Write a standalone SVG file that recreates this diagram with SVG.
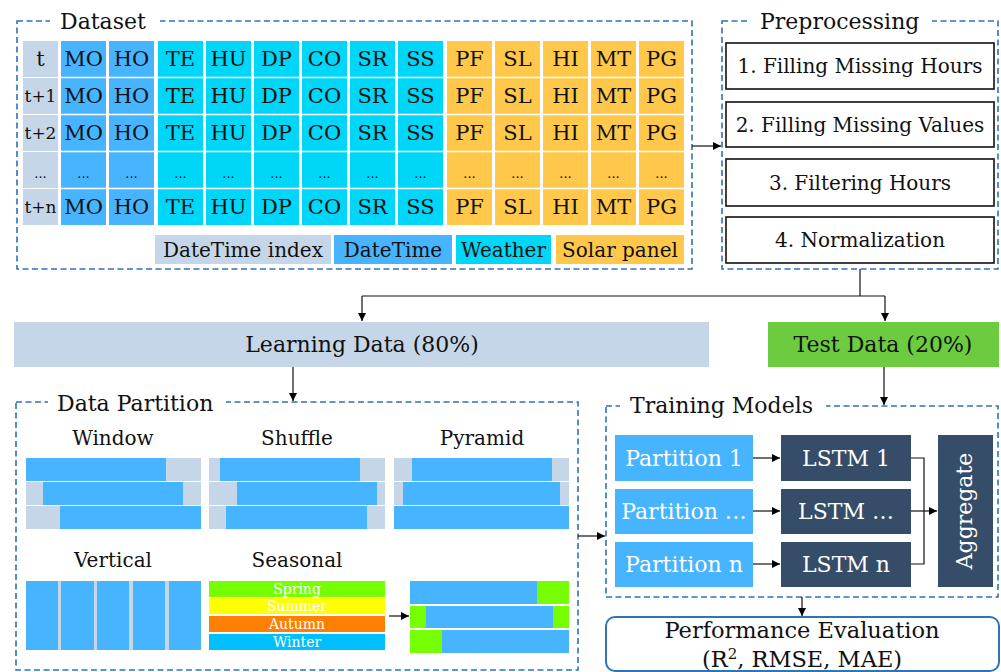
<svg xmlns="http://www.w3.org/2000/svg" width="1001" height="672" viewBox="0 0 1001 672">
  <defs>
    <marker id="arrow" viewBox="0 0 10 10" refX="10" refY="5" markerWidth="8" markerHeight="8" markerUnits="userSpaceOnUse" orient="auto">
      <path d="M0,0 L10,5 L0,10 Z" fill="#000"/>
    </marker>
    <style>
      text { font-family: "DejaVu Serif", "Liberation Serif", serif; fill: #111; }
      .frame { fill: none; stroke: #2F70B8; stroke-width: 1.6; stroke-dasharray: 6 3.5; }
      .mask { fill: #fff; }
      .title { font-size: 22px; }
      .idx { fill: #C5D6E8; }
      .dt { fill: #47B4FF; }
      .wx { fill: #00D6F7; }
      .sp { fill: #FFC84B; }
      .cell { font-size: 21px; text-anchor: middle; }
      .row { font-size: 17px; text-anchor: middle; }
      .dots { font-size: 13px; text-anchor: middle; }
      .step { fill: #fff; stroke: #111; stroke-width: 1.6; }
      .stepText { font-size: 20px; text-anchor: middle; }
      .lbl { font-size: 20px; text-anchor: middle; }
      .season { font-size: 14px; text-anchor: middle; fill: #fff; }
      .lstm { fill: #354D68; }
      .white { fill: #fff; font-size: 22px; text-anchor: middle; }
      .conn { fill: none; stroke: #111; stroke-width: 1.2; }
    </style>
  </defs>

  <rect width="1001" height="672" fill="#fff"/>

  <!-- Dataset table -->
  <g id="dataset">
    <rect class="frame" x="17" y="21" width="675" height="248"/>
    <rect class="mask" x="50" y="8" width="110" height="26"/>
    <text class="title" x="60" y="29">Dataset</text>
    <!-- index column -->
    <g>
      <rect class="idx" x="23" y="41" width="35" height="36"/>
      <rect class="idx" x="23" y="78" width="35" height="36"/>
      <rect class="idx" x="23" y="115" width="35" height="36"/>
      <rect class="idx" x="23" y="152" width="35" height="36"/>
      <rect class="idx" x="23" y="189" width="35" height="36"/>
      <text class="cell" x="40.5" y="66">t</text>
      <text class="row" x="40.5" y="102">t+1</text>
      <text class="row" x="40.5" y="139">t+2</text>
      <text class="dots" x="40.5" y="178">...</text>
      <text class="row" x="40.5" y="213">t+n</text>
    </g>
    <!-- date/time columns -->
    <g>
      <rect class="dt" x="61" y="41" width="45" height="184"/>
      <rect class="dt" x="109" y="41" width="45" height="184"/>
    </g>
    <!-- weather columns -->
    <g>
      <rect class="wx" x="158" y="41" width="45" height="184"/>
      <rect class="wx" x="206" y="41" width="45" height="184"/>
      <rect class="wx" x="254" y="41" width="45" height="184"/>
      <rect class="wx" x="302" y="41" width="45" height="184"/>
      <rect class="wx" x="350" y="41" width="45" height="184"/>
      <rect class="wx" x="398" y="41" width="45" height="184"/>
    </g>
    <!-- solar panel columns -->
    <g>
      <rect class="sp" x="447" y="41" width="45" height="184"/>
      <rect class="sp" x="495" y="41" width="45" height="184"/>
      <rect class="sp" x="543" y="41" width="45" height="184"/>
      <rect class="sp" x="591" y="41" width="45" height="184"/>
      <rect class="sp" x="639" y="41" width="45" height="184"/>
    </g>
    <!-- row separators -->
    <g stroke="#fff" stroke-width="1.4">
      <line x1="61" y1="77.5" x2="684" y2="77.5"/>
      <line x1="61" y1="114.5" x2="684" y2="114.5"/>
      <line x1="61" y1="151.5" x2="684" y2="151.5"/>
      <line x1="61" y1="188.5" x2="684" y2="188.5"/>
    </g>
    <!-- cell labels -->
    <g class="cells">
      <text class="cell" x="83.5" y="66">MO</text><text class="cell" x="131.5" y="66">HO</text>
      <text class="cell" x="180.5" y="66">TE</text><text class="cell" x="228.5" y="66">HU</text>
      <text class="cell" x="276.5" y="66">DP</text><text class="cell" x="324.5" y="66">CO</text>
      <text class="cell" x="372.5" y="66">SR</text><text class="cell" x="420.5" y="66">SS</text>
      <text class="cell" x="469.5" y="66">PF</text><text class="cell" x="517.5" y="66">SL</text>
      <text class="cell" x="565.5" y="66">HI</text><text class="cell" x="613.5" y="66">MT</text>
      <text class="cell" x="661.5" y="66">PG</text>

      <text class="cell" x="83.5" y="103">MO</text><text class="cell" x="131.5" y="103">HO</text>
      <text class="cell" x="180.5" y="103">TE</text><text class="cell" x="228.5" y="103">HU</text>
      <text class="cell" x="276.5" y="103">DP</text><text class="cell" x="324.5" y="103">CO</text>
      <text class="cell" x="372.5" y="103">SR</text><text class="cell" x="420.5" y="103">SS</text>
      <text class="cell" x="469.5" y="103">PF</text><text class="cell" x="517.5" y="103">SL</text>
      <text class="cell" x="565.5" y="103">HI</text><text class="cell" x="613.5" y="103">MT</text>
      <text class="cell" x="661.5" y="103">PG</text>

      <text class="cell" x="83.5" y="140">MO</text><text class="cell" x="131.5" y="140">HO</text>
      <text class="cell" x="180.5" y="140">TE</text><text class="cell" x="228.5" y="140">HU</text>
      <text class="cell" x="276.5" y="140">DP</text><text class="cell" x="324.5" y="140">CO</text>
      <text class="cell" x="372.5" y="140">SR</text><text class="cell" x="420.5" y="140">SS</text>
      <text class="cell" x="469.5" y="140">PF</text><text class="cell" x="517.5" y="140">SL</text>
      <text class="cell" x="565.5" y="140">HI</text><text class="cell" x="613.5" y="140">MT</text>
      <text class="cell" x="661.5" y="140">PG</text>

      <text class="dots" x="83.5" y="178">...</text><text class="dots" x="131.5" y="178">...</text>
      <text class="dots" x="180.5" y="178">...</text><text class="dots" x="228.5" y="178">...</text>
      <text class="dots" x="276.5" y="178">...</text><text class="dots" x="324.5" y="178">...</text>
      <text class="dots" x="372.5" y="178">...</text><text class="dots" x="420.5" y="178">...</text>
      <text class="dots" x="469.5" y="178">...</text><text class="dots" x="517.5" y="178">...</text>
      <text class="dots" x="565.5" y="178">...</text><text class="dots" x="613.5" y="178">...</text>
      <text class="dots" x="661.5" y="178">...</text>

      <text class="cell" x="83.5" y="214">MO</text><text class="cell" x="131.5" y="214">HO</text>
      <text class="cell" x="180.5" y="214">TE</text><text class="cell" x="228.5" y="214">HU</text>
      <text class="cell" x="276.5" y="214">DP</text><text class="cell" x="324.5" y="214">CO</text>
      <text class="cell" x="372.5" y="214">SR</text><text class="cell" x="420.5" y="214">SS</text>
      <text class="cell" x="469.5" y="214">PF</text><text class="cell" x="517.5" y="214">SL</text>
      <text class="cell" x="565.5" y="214">HI</text><text class="cell" x="613.5" y="214">MT</text>
      <text class="cell" x="661.5" y="214">PG</text>
    </g>
    <!-- legend -->
    <g id="legend">
      <rect class="idx" x="155" y="235" width="176" height="29"/>
      <rect class="dt" x="334" y="235" width="118" height="29"/>
      <rect class="wx" x="456" y="235" width="95" height="29"/>
      <rect class="sp" x="556" y="235" width="128" height="29"/>
      <text class="lbl" x="243" y="257">DateTime index</text>
      <text class="lbl" x="393" y="257">DateTime</text>
      <text class="lbl" x="503.5" y="257">Weather</text>
      <text class="lbl" x="620" y="257">Solar panel</text>
    </g>
  </g>

  <!-- Preprocessing steps -->
  <g id="preprocessing">
    <rect class="frame" x="722" y="21" width="276" height="248"/>
    <rect class="mask" x="748" y="8" width="184" height="26"/>
    <text class="title" x="760" y="29">Preprocessing</text>
    <rect class="step" x="726" y="43" width="268" height="46"/>
    <rect class="step" x="726" y="102" width="268" height="45"/>
    <rect class="step" x="726" y="159" width="268" height="47"/>
    <rect class="step" x="726" y="217" width="268" height="46"/>
    <text class="stepText" x="860" y="73">1. Filling Missing Hours</text>
    <text class="stepText" x="860" y="131.5">2. Filling Missing Values</text>
    <text class="stepText" x="860" y="189.5">3. Filtering Hours</text>
    <text class="stepText" x="860" y="247">4. Normalization</text>
  </g>

  <!-- Data split -->
  <g id="learning-data">
    <rect class="idx" x="14" y="322" width="695" height="45"/>
    <text x="362" y="352" font-size="22" text-anchor="middle">Learning Data (80%)</text>
  </g>
  <g id="test-data">
    <rect x="768" y="322" width="231" height="45" fill="#6CCB3E"/>
    <text x="883" y="352" font-size="22" text-anchor="middle">Test Data (20%)</text>
  </g>

  <!-- Data partition strategies -->
  <g id="data-partition">
    <rect class="frame" x="16" y="402" width="562" height="268"/>
    <rect class="mask" x="48" y="390" width="178" height="26"/>
    <text class="title" x="57" y="411">Data Partition</text>

    <text class="lbl" x="113" y="445">Window</text>
    <text class="lbl" x="297" y="445">Shuffle</text>
    <text class="lbl" x="482" y="445">Pyramid</text>

    <!-- window -->
    <rect class="idx" x="26" y="458" width="175" height="23"/>
    <rect class="dt" x="26" y="458" width="140" height="23"/>
    <rect class="idx" x="26" y="482" width="175" height="23"/>
    <rect class="dt" x="43" y="482" width="140" height="23"/>
    <rect class="idx" x="26" y="506" width="175" height="23"/>
    <rect class="dt" x="60" y="506" width="141" height="23"/>

    <!-- shuffle -->
    <rect class="idx" x="209" y="458" width="176" height="23"/>
    <rect class="dt" x="220" y="458" width="140" height="23"/>
    <rect class="idx" x="209" y="482" width="176" height="23"/>
    <rect class="dt" x="237" y="482" width="140" height="23"/>
    <rect class="idx" x="209" y="506" width="176" height="23"/>
    <rect class="dt" x="226" y="506" width="141" height="23"/>

    <!-- pyramid -->
    <rect class="idx" x="394" y="458" width="175" height="23"/>
    <rect class="dt" x="412" y="458" width="140" height="23"/>
    <rect class="idx" x="394" y="482" width="175" height="23"/>
    <rect class="dt" x="403" y="482" width="157" height="23"/>
    <rect class="dt" x="394" y="506" width="175" height="23"/>

    <text class="lbl" x="113" y="567">Vertical</text>
    <text class="lbl" x="297" y="567">Seasonal</text>

    <!-- vertical -->
    <rect class="idx" x="26" y="581" width="175" height="69"/>
    <rect class="dt" x="26" y="581" width="32" height="69"/>
    <rect class="dt" x="61" y="581" width="33" height="69"/>
    <rect class="dt" x="97" y="581" width="32" height="69"/>
    <rect class="dt" x="133" y="581" width="32" height="69"/>
    <rect class="dt" x="169" y="581" width="32" height="69"/>

    <!-- seasonal -->
    <rect x="209" y="581" width="176" height="16" fill="#76FF03"/>
    <rect x="209" y="598" width="176" height="16" fill="#FFFF00"/>
    <rect x="209" y="616" width="176" height="16" fill="#FF8000"/>
    <rect x="209" y="634" width="176" height="16" fill="#00BFFF"/>
    <text class="season" x="297" y="594">Spring</text>
    <text class="season" x="297" y="611">Summer</text>
    <text class="season" x="297" y="629">Autumn</text>
    <text class="season" x="297" y="647">Winter</text>

    <!-- seasonal windows -->
    <rect x="410" y="581" width="159" height="23" fill="#76FF03"/>
    <rect class="dt" x="410" y="581" width="127" height="23"/>
    <rect x="410" y="606" width="159" height="22" fill="#76FF03"/>
    <rect class="dt" x="426" y="606" width="127" height="22"/>
    <rect x="410" y="630" width="159" height="23" fill="#76FF03"/>
    <rect class="dt" x="442" y="630" width="127" height="23"/>
  </g>

  <!-- Model training -->
  <g id="training-models">
    <rect class="frame" x="606" y="406" width="392" height="191"/>
    <rect class="mask" x="620" y="393" width="206" height="26"/>
    <text class="title" x="630" y="413">Training Models</text>
  </g>
  <g id="partition-1">
    <rect class="dt" x="615" y="435" width="138" height="46"/>
    <text class="white" x="684" y="466">Partition 1</text>
  </g>
  <g id="partition-mid">
    <rect class="dt" x="615" y="489" width="138" height="45"/>
    <text class="white" x="684" y="519">Partition …</text>
  </g>
  <g id="partition-n">
    <rect class="dt" x="615" y="542" width="138" height="45"/>
    <text class="white" x="684" y="572">Partition n</text>
  </g>
  <g id="lstm-1">
    <rect class="lstm" x="781" y="435" width="130" height="46"/>
    <text class="white" x="846" y="466">LSTM 1</text>
  </g>
  <g id="lstm-mid">
    <rect class="lstm" x="781" y="489" width="130" height="45"/>
    <text class="white" x="846" y="519">LSTM …</text>
  </g>
  <g id="lstm-n">
    <rect class="lstm" x="781" y="542" width="130" height="45"/>
    <text class="white" x="846" y="572">LSTM n</text>
  </g>
  <g id="aggregate">
    <rect class="lstm" x="938" y="435" width="55" height="152"/>
    <text class="white" transform="translate(965,511) rotate(-90)" x="0" y="7">Aggregate</text>
  </g>

  <!-- Evaluation -->
  <g id="evaluation">
    <rect x="606" y="617" width="393" height="54" rx="9" fill="#fff" stroke="#2E75B6" stroke-width="2"/>
    <text x="802" y="638" font-size="22.5" text-anchor="middle">Performance Evaluation</text>
    <text x="802" y="667" font-size="22.5" text-anchor="middle">(R<tspan font-size="15" dy="-8">2</tspan><tspan dy="8">, RMSE, MAE)</tspan></text>
  </g>

  <!-- Connectors -->
  <g id="connectors" class="conn">
    <path class="conn" d="M692,146 H721" marker-end="url(#arrow)"/>
    <path class="conn" d="M860,269 V296"/>
    <path class="conn" d="M362,296 H885"/>
    <path class="conn" d="M362,296 V321" marker-end="url(#arrow)"/>
    <path class="conn" d="M885,296 V321" marker-end="url(#arrow)"/>
    <path class="conn" d="M293,367 V401" marker-end="url(#arrow)"/>
    <path class="conn" d="M884,367 V405" marker-end="url(#arrow)"/>
    <path class="conn" d="M578,536 H605" marker-end="url(#arrow)"/>
    <path class="conn" d="M389,616 H409" marker-end="url(#arrow)"/>
    <path class="conn" d="M753,458 H780" marker-end="url(#arrow)"/>
    <path class="conn" d="M753,511 H780" marker-end="url(#arrow)"/>
    <path class="conn" d="M753,564 H780" marker-end="url(#arrow)"/>
    <path class="conn" d="M911,458 H924 V564 H911"/>
    <path class="conn" d="M911,511 H937" marker-end="url(#arrow)"/>
    <path class="conn" d="M802,597 V616" marker-end="url(#arrow)"/>
  </g>
</svg>
